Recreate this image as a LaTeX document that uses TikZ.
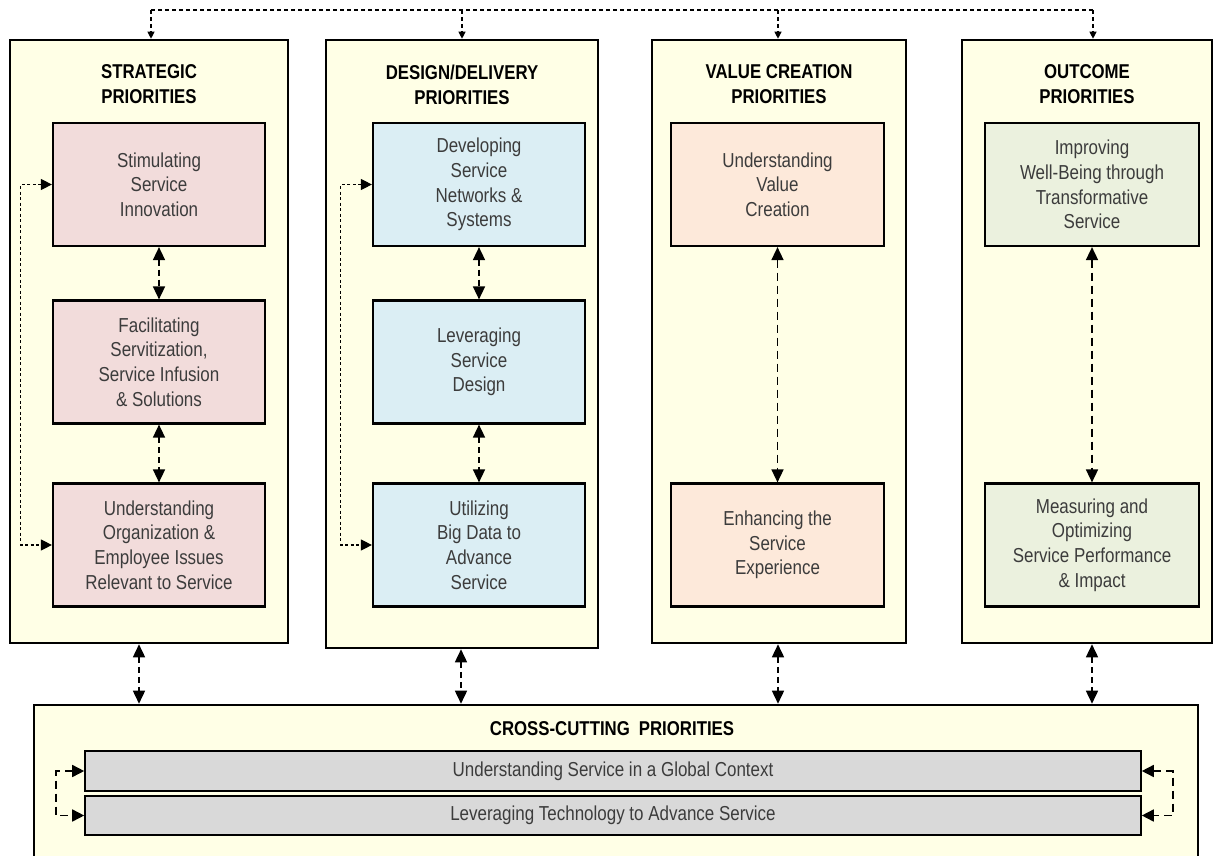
\documentclass[tikz,border=0pt]{standalone}
\usepackage{fontspec}
\setmainfont[FakeStretch=0.84]{Liberation Sans}
\usetikzlibrary{arrows.meta}

\definecolor{colfill}{HTML}{FFFFE6}
\definecolor{pinkfill}{HTML}{F2DCDB}
\definecolor{bluefill}{HTML}{DBEEF4}
\definecolor{peachfill}{HTML}{FDE9DA}
\definecolor{greenfill}{HTML}{EBF1DE}
\definecolor{barfill}{HTML}{D9D9D9}
\definecolor{txt}{HTML}{3C3C3C}

\tikzset{
  column/.style={draw=black, line width=2.6pt, fill=colfill, rectangle, inner sep=0},
  heading/.style={align=center, font=\fontsize{20}{25}\selectfont\bfseries, text=black, inner sep=0},
  item/.style={draw=black, line width=2.2pt, minimum width=212pt, minimum height=123pt,
    align=center, text=txt, font=\fontsize{20.2}{24.6}\selectfont, inner sep=0},
  bar/.style={draw=black, line width=1.6pt, fill=barfill, minimum width=1056pt,
    minimum height=40pt, text=txt, font=\fontsize{20.2}{24}\selectfont, inner sep=0},
  biarrow/.style={line width=1.6pt, dash pattern=on 6pt off 4pt,
    {Triangle[length=13pt,width=12pt]}-{Triangle[length=13pt,width=12pt]}},
  longarrow/.style={biarrow, dash pattern=on 8pt off 5pt},
  sidelink/.style={line width=1.1pt, dash pattern=on 3pt off 2.5pt,
    {Triangle[length=11pt,width=11pt]}-{Triangle[length=11pt,width=11pt]}},
  barlink/.style={line width=1.6pt, dash pattern=on 8pt off 5pt,
    {Triangle[length=12pt,width=12pt]}-{Triangle[length=12pt,width=12pt]}},
  toplink/.style={line width=1.1pt, dash pattern=on 4pt off 3pt},
  topdrop/.style={toplink, -{Triangle[length=7pt,width=7pt]}}
}

\begin{document}
\begin{tikzpicture}[x=1pt,y=-1pt]
\useasboundingbox (0,0) rectangle (1218,856);
\fill[white] (0,0) rectangle (1218,856);

% priority columns
\node[column, minimum width=278pt, minimum height=603pt] (c1) at (149,341.5) {};
\node[column, minimum width=272pt, minimum height=608pt] (c2) at (462,344) {};
\node[column, minimum width=254pt, minimum height=603pt] (c3) at (779,341.5) {};
\node[column, minimum width=250pt, minimum height=603pt] (c4) at (1087,341.5) {};

\node[heading] (h1) at (149,84.5) {STRATEGIC\\PRIORITIES};
\node[heading] (h2) at (462,84.5) {DESIGN/DELIVERY\\PRIORITIES};
\node[heading] (h3) at (779,84.5) {VALUE CREATION\\PRIORITIES};
\node[heading] (h4) at (1087,84.5) {OUTCOME\\PRIORITIES};

% strategic
\node[item, fill=pinkfill] (s1) at (159,184.5) {Stimulating\\Service\\Innovation};
\node[item, fill=pinkfill] (s2) at (159,362) {Facilitating\\Servitization,\\Service Infusion\\\& Solutions};
\node[item, fill=pinkfill] (s3) at (159,545) {Understanding\\Organization \&\\Employee Issues\\Relevant to Service};

% design / delivery
\node[item, fill=bluefill] (d1) at (479,184.5) {Developing\\Service\\Networks \&\\Systems};
\node[item, fill=bluefill] (d2) at (479,362) {Leveraging\\Service\\Design};
\node[item, fill=bluefill] (d3) at (479,545) {Utilizing\\Big Data to\\Advance\\Service};

% value creation
\node[item, fill=peachfill, minimum width=213pt] (v1) at (777.5,184.5) {Understanding\\Value\\Creation};
\node[item, fill=peachfill, minimum width=213pt] (v2) at (777.5,545) {Enhancing the\\Service\\Experience};

% outcome
\node[item, fill=greenfill, minimum width=214pt] (o1) at (1092,184.5) {Improving\\Well-Being through\\Transformative\\Service};
\node[item, fill=greenfill, minimum width=214pt] (o2) at (1092,545) {Measuring and\\Optimizing\\Service Performance\\\& Impact};

% links inside the columns
\draw[biarrow] (s1.south) -- (s2.north);
\draw[biarrow] (s2.south) -- (s3.north);
\draw[biarrow] (d1.south) -- (d2.north);
\draw[biarrow] (d2.south) -- (d3.north);
\draw[longarrow] (v1.south) -- (v2.north);
\draw[longarrow] (o1.south) -- (o2.north);

\draw[sidelink] (s1.west) -- ++(-31,0) |- (s3.west);
\draw[sidelink] (d1.west) -- ++(-31,0) |- (d3.west);

% links across the top
\coordinate (top1) at (151,10);
\coordinate (top2) at (462,10);
\coordinate (top3) at (778,10);
\coordinate (top4) at (1093,10);
\draw[toplink] (top1) -- (top4);
\draw[topdrop] (top1) -- (top1 |- c1.north);
\draw[topdrop] (top2) -- (top2 |- c2.north);
\draw[topdrop] (top3) -- (top3 |- c3.north);
\draw[topdrop] (top4) -- (top4 |- c4.north);

% cross-cutting block
\node[column, minimum width=1164pt, minimum height=170pt] (cc) at (616,790) {};
\node[heading] (hc) at (612,729) {CROSS-CUTTING\hspace{0.45em}PRIORITIES};
\node[bar] (g1) at (613,771) {Understanding Service in a Global Context};
\node[bar, minimum height=39pt] (g2) at (613,815.5) {Leveraging Technology to Advance Service};

\draw[barlink] (g1.west) -- ++(-28,0) |- (g2.west);
\draw[barlink] (g1.east) -- ++(31,0) |- (g2.east);

% links between the columns and the cross-cutting block
\draw[biarrow] (139,0 |- c1.south) -- (139,0 |- cc.north);
\draw[biarrow] (461,0 |- c2.south) -- (461,0 |- cc.north);
\draw[biarrow] (778,0 |- c3.south) -- (778,0 |- cc.north);
\draw[biarrow] (1092,0 |- c4.south) -- (1092,0 |- cc.north);
\end{tikzpicture}
\end{document}
